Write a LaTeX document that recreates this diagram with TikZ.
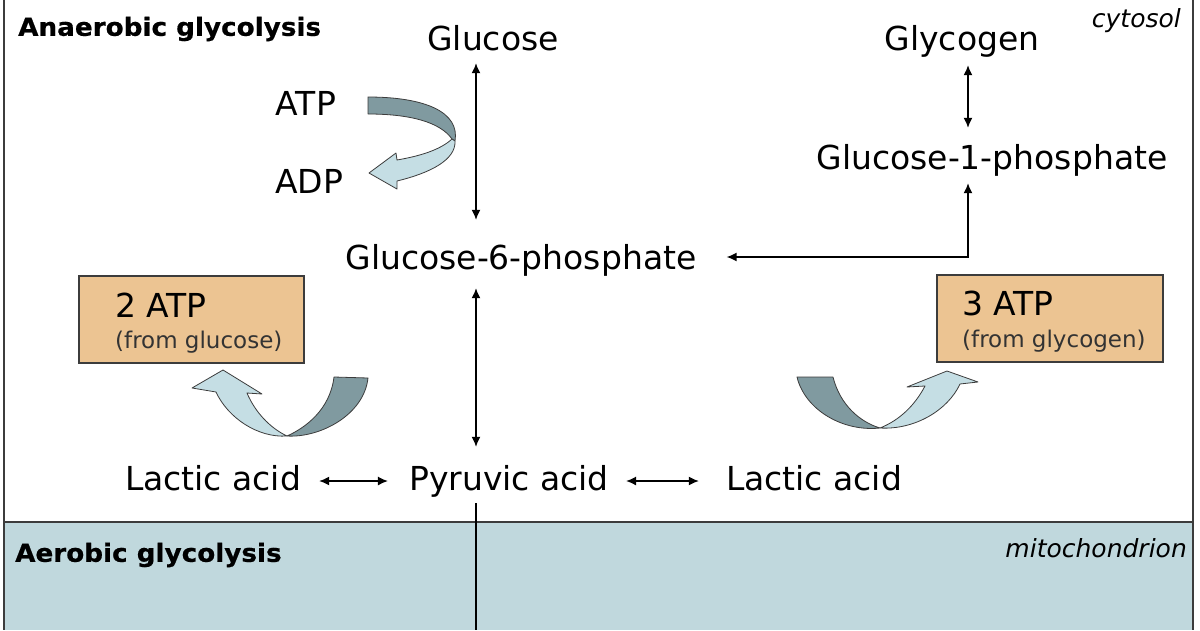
\documentclass[tikz,border=0pt]{standalone}
\usepackage{fontspec}
\setmainfont{DejaVu Sans}
\newfontfamily\headfont{DejaVu Sans}[FakeStretch=1.05, BoldFeatures={FakeBold=0.6}]
\usetikzlibrary{arrows.meta}
\definecolor{panelblue}{RGB}{192,216,221}
\definecolor{boxtan}{RGB}{236,196,146}
\definecolor{ribdark}{RGB}{128,154,160}
\definecolor{riblight}{RGB}{197,222,228}
\definecolor{edgegray}{RGB}{60,60,60}
\tikzset{
  lbl/.style={inner sep=0pt, text height=24pt, text depth=0pt, font=\fontsize{33}{36}\selectfont},
  sub/.style={inner sep=0pt, anchor=base west, text=black!80, font=\fontsize{23}{26}\selectfont},
  big/.style={inner sep=0pt, anchor=base west, font=\fontsize{33}{36}\selectfont},
  head/.style={inner sep=0pt, anchor=west, font=\headfont\bfseries\fontsize{25}{28}\selectfont},
  place/.style={inner sep=0pt, font=\itshape\fontsize{25}{28}\selectfont},
  atpbox/.style={draw=edgegray, line width=1.2pt, fill=boxtan, minimum height=87pt, inner sep=0pt},
  dbl/.style={line width=1.4pt, {Latex[length=10pt,width=9pt]}-{Latex[length=10pt,width=9pt]}},
  ribbon/.style={draw=edgegray, line width=0.8pt, line join=round},
}
\begin{document}
\begin{tikzpicture}[x=1pt,y=-1pt]
\useasboundingbox (0,0) rectangle (1200,630);
% panels
\fill[panelblue] (4,522) rectangle (1193,630);
\draw[line width=1.2pt, edgegray] (4,0) -- (4,630);
\draw[line width=1.2pt, edgegray] (1193,0) -- (1193,630);
\draw[line width=1.2pt, edgegray] (4,522) -- (1193,522);

% headings
\node[head] (ana) at (18,29) {Anaerobic glycolysis};
\node[head] (aer) at (15,555) {Aerobic glycolysis};
\node[place, anchor=east] (cyt) at (1181,21) {cytosol};
\node[place, anchor=east] (mit) at (1187,548) {mitochondrion};

% axis coordinates
\coordinate (ax) at (476,0);
\coordinate (gx) at (968,0);
\coordinate (bot) at (476,630);

% labels
\node[lbl] (glc) at (493,38) {Glucose};
\node[lbl] (gly) at (962,38) {Glycogen};
\node[lbl] (g1p) at (992,157) {Glucose-1-phosphate};
\node[lbl] (atp) at (306,103) {ATP};
\node[lbl] (adp) at (309,181) {ADP};
\node[lbl] (g6p) at (521,257) {Glucose-6-phosphate};
\node[lbl] (lacL) at (213,478) {Lactic acid};
\node[lbl] (pyr) at (509,478) {Pyruvic acid};
\node[lbl] (lacR) at (814,478) {Lactic acid};

% ATP boxes
\node[atpbox, minimum width=225pt] (b1) at (191.5,319.5) {};
\node[big] (b1a) at (115,317) {2 ATP};
\node[sub] (b1b) at (115,348) {(from glucose)};
\node[atpbox, minimum width=226pt] (b2) at (1050,318.5) {};
\node[big] (b2a) at (962,315) {3 ATP};
\node[sub] (b2b) at (962,347) {(from glycogen)};

% connectors
\draw[dbl, shorten <=13pt, shorten >=25pt] (glc.south -| ax) -- (g6p.north -| ax);
\draw[dbl, shorten <=19pt, shorten >=19pt] (g6p.south -| ax) -- (pyr.north -| ax);
\draw[dbl, shorten <=15pt, shorten >=17pt] (gly.south -| gx) -- (g1p.north -| gx);
\draw[dbl, shorten <=30pt, shorten >=14pt] (g6p.east) -- (g6p.east -| gx) -- (g1p.south -| gx);
\draw[dbl, shorten <=18pt, shorten >=21pt] ([yshift=-3pt]lacL.east) -- ([yshift=-3pt]pyr.west);
\draw[dbl, shorten <=17pt, shorten >=27pt] ([yshift=-3pt]pyr.east) -- ([yshift=-3pt]lacR.west);
\draw[line width=1.2pt, shorten <=13pt] (pyr.south -| ax) -- (bot);

% ATP -> ADP ribbon arrow
\draw[ribbon, fill=ribdark] (368,97) .. controls (425,97) and (460,112) .. (455,141)
  -- (452,139) .. controls (440,122) and (410,114) .. (368,114) -- cycle;
\draw[ribbon, fill=riblight] (452,139) .. controls (440,150) and (420,156) .. (397,160)
  -- (396,153) -- (369,173) -- (397,189) -- (397,181)
  .. controls (430,173) and (456,160) .. (455,141) -- cycle;

% left lower ribbon arrow (to 2 ATP)
\draw[ribbon, fill=ribdark] (334,377) -- (368,378) .. controls (364,415) and (320,438) .. (287,436)
  .. controls (305,428) and (330,410) .. (334,377) -- cycle;
\draw[ribbon, fill=riblight] (287,436) .. controls (258,438) and (228,418) .. (216,392)
  -- (192,388) -- (223,370) -- (262,394) -- (247,393)
  .. controls (255,412) and (270,428) .. (287,436) -- cycle;

% right lower ribbon arrow (to 3 ATP)
\draw[ribbon, fill=ribdark] (797,377) -- (833,377) .. controls (840,405) and (860,422) .. (880,428)
  .. controls (843,432) and (805,410) .. (797,377) -- cycle;
\draw[ribbon, fill=riblight] (880,428) .. controls (915,430) and (948,410) .. (960,384)
  -- (978,382) -- (947,371) -- (907,387) -- (925,386)
  .. controls (915,405) and (900,420) .. (880,428) -- cycle;
\end{tikzpicture}
\end{document}
